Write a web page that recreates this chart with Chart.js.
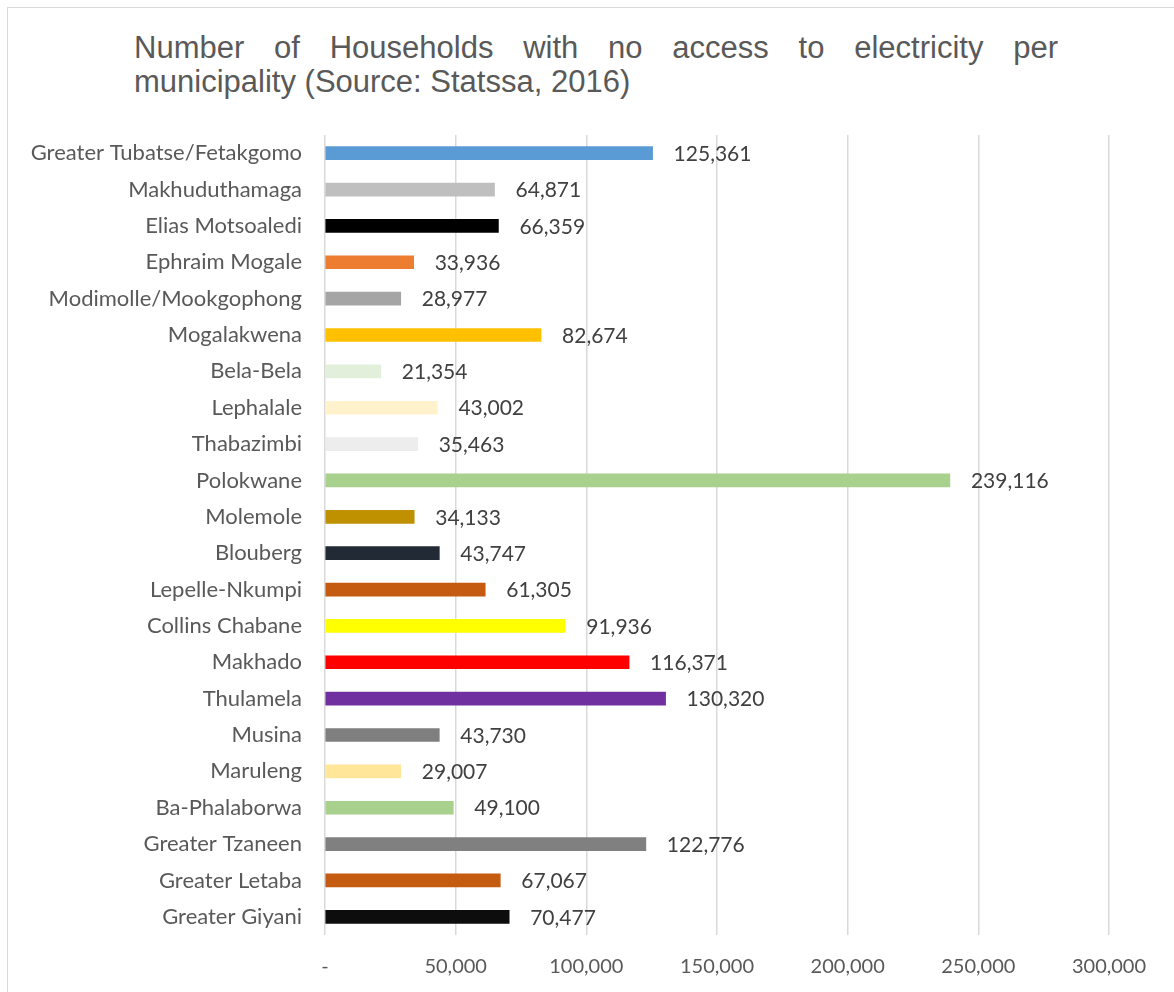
<!DOCTYPE html>
<html>
<head>
<meta charset="utf-8">
<script src="https://cdn.jsdelivr.net/npm/chart.js@4.4.0/dist/chart.umd.min.js"></script>
<style>
  html, body { margin: 0; padding: 0; background: #fff; overflow: hidden; }
  #wrap { position: relative; width: 1174px; height: 992px; }
  #frame { position: absolute; left: 7px; top: 7px; width: 1200px; height: 1000px; border: 1px solid #d9d9d9; box-sizing: border-box; }
  #title { position: absolute; left: 134px; top: 31px; width: 924px; font: 31px "Liberation Sans", Arial, sans-serif; color: #595959; text-align: justify; line-height: 34px; }
  canvas { position: absolute; left: 0; top: 0; }
</style>
</head>
<body>
<div id="wrap">
  <div id="frame"></div>
  <div id="title">Number of Households with no access to electricity per municipality (Source: Statssa, 2016)</div>
  <canvas id="myChart" width="1174" height="992"></canvas>
</div>
<script>
const municipalities = [
    'Greater Tubatse/Fetakgomo', 'Makhuduthamaga', 'Elias Motsoaledi', 'Ephraim Mogale',
    'Modimolle/Mookgophong', 'Mogalakwena', 'Bela-Bela', 'Lephalale', 'Thabazimbi',
    'Polokwane', 'Molemole', 'Blouberg', 'Lepelle-Nkumpi', 'Collins Chabane', 'Makhado',
    'Thulamela', 'Musina', 'Maruleng', 'Ba-Phalaborwa', 'Greater Tzaneen',
    'Greater Letaba', 'Greater Giyani'
];
const households = [
    125361, 64871, 66359, 33936, 28977, 82674, 21354, 43002, 35463, 239116, 34133,
    43747, 61305, 91936, 116371, 130320, 43730, 29007, 49100, 122776, 67067, 70477
];
const barColors = [
    '#5B9BD5', '#BFBFBF', '#000000', '#ED7D31', '#A5A5A5', '#FFC000', '#E2EFDA',
    '#FFF2CC', '#EDEDED', '#A9D18E', '#BF9000', '#222A35', '#C55A11', '#FFFF00',
    '#FF0000', '#7030A0', '#7F7F7F', '#FFE699', '#A9D18E', '#808080', '#C55A11', '#0D0D0D'
];
const xTicks = [0, 50000, 100000, 150000, 200000, 250000, 300000];

const fmt = (v) => v.toLocaleString('en-US');

// draws the value at the end of each bar
const barLabels = {
    id: 'barLabels',
    afterDatasetsDraw(chart) {
        const ctx = chart.ctx;
        const meta = chart.getDatasetMeta(0);
        ctx.save();
        ctx.font = '21px Lato';
        ctx.fillStyle = '#404040';
        ctx.textBaseline = 'middle';
        ctx.textAlign = 'left';
        meta.data.forEach((bar, i) => {
            ctx.fillText(fmt(households[i]), bar.x + 21, bar.y + 1);
        });
        ctx.restore();
    }
};

const ctx = document.getElementById('myChart').getContext('2d');
const chart = new Chart(ctx, {
    type: 'bar',
    data: {
        labels: municipalities,
        datasets: [{
            data: households,
            backgroundColor: barColors,
            barThickness: 13
        }]
    },
    options: {
        indexAxis: 'y',
        responsive: false,
        animation: false,
        layout: { padding: { top: 135, right: 65, bottom: 0, left: 0 } },
        plugins: {
            legend: { display: false },
            tooltip: { enabled: false }
        },
        scales: {
            x: {
                min: 0,
                max: 300000,
                afterBuildTicks: (scale) => { scale.ticks = xTicks.map(v => ({ value: v })); },
                afterFit: (scale) => { scale.height = 57; },
                grid: { color: '#d9d9d9', lineWidth: 1.5, drawTicks: false },
                border: { display: false },
                ticks: {
                    padding: 20,
                    color: '#595959',
                    font: { family: 'Lato', size: 20 },
                    callback: (v) => v === 0 ? '-' : fmt(v)
                }
            },
            y: {
                afterFit: (scale) => { scale.width = 325; },
                grid: { display: false, drawTicks: false },
                border: { display: false },
                ticks: {
                    padding: 23,
                    color: '#595959',
                    font: { family: 'Lato', size: 22 }
                }
            }
        }
    },
    plugins: [barLabels]
});
</script>
</body>
</html>
